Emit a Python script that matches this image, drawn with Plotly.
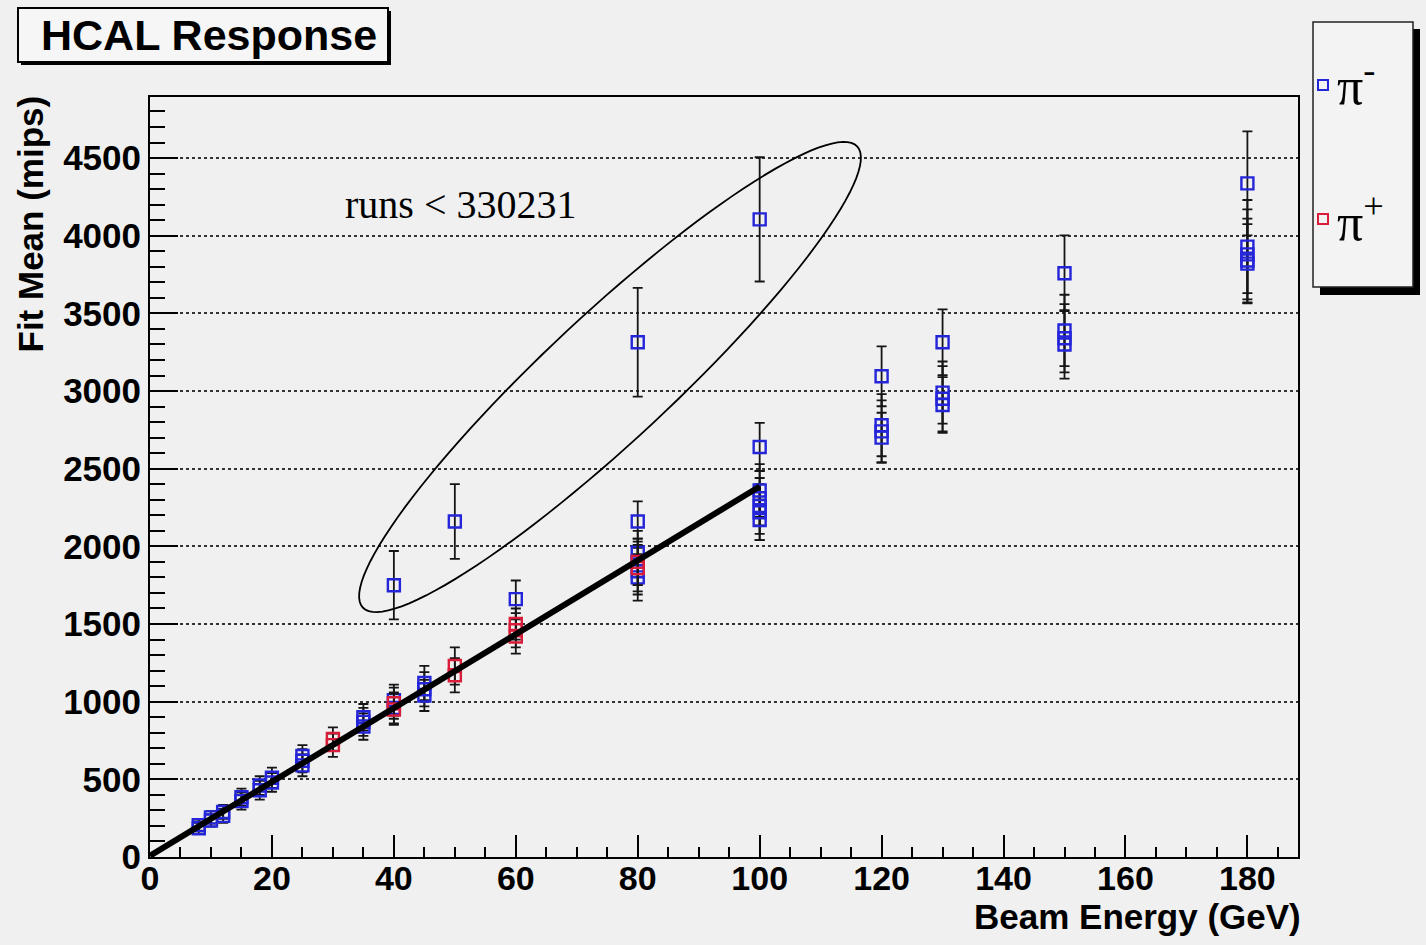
import math
import plotly.graph_objects as go

# ---------------- data ----------------
pim_energy = [8, 8, 10, 10, 12, 12, 15, 15, 18, 18, 20, 20,
              25, 25, 25, 35, 35, 35, 40, 40, 40, 45, 45, 45,
              50, 60,
              80, 80, 80, 80, 80, 80,
              100, 100, 100, 100, 100, 100, 100,
              120, 120, 120, 120,
              130, 130, 130, 130,
              150, 150, 150, 150,
              180, 180, 180, 180, 180]
pim_mean = [185, 205, 235, 255, 265, 290, 360, 385, 430, 460, 480, 510,
            590, 620, 650, 840, 870, 900, 960, 1010, 1750, 1040, 1080, 1120,
            2160, 1660,
            2160, 1960, 1900, 1840, 1800, 3314,
            2640, 2360, 2310, 2260, 2220, 2170, 4105,
            3095, 2780, 2740, 2700,
            3314, 2990, 2950, 2910,
            3758, 3390, 3340, 3300,
            4337, 3930, 3880, 3840, 3820]
pim_err = [35, 35, 40, 40, 45, 45, 55, 55, 60, 60, 60, 65,
           70, 75, 70, 85, 90, 85, 100, 100, 220, 100, 110, 110,
           240, 120,
           130, 140, 150, 150, 150, 350,
           155, 170, 175, 180, 180, 130, 400,
           193, 200, 200, 160,
           212, 200, 210, 180,
           244, 230, 220, 220,
           335, 300, 290, 270, 255]

pip_energy = [30, 30, 40, 40, 50, 50, 60, 60, 60, 80, 80]
pip_mean = [720, 760, 950, 990, 1170, 1230, 1420, 1460, 1500, 1860, 1900]
pip_err = [75, 75, 100, 100, 110, 120, 110, 110, 100, 150, 150]

fit_energy = [0, 100]
fit_mean = [8, 2385]

x_ticks = [0, 20, 40, 60, 80, 100, 120, 140, 160, 180]
y_ticks = [0, 500, 1000, 1500, 2000, 2500, 3000, 3500, 4000, 4500]

# ---------------- layout constants ----------------
W, H = 1426, 945
L, R, T, B = 150, 1298, 97, 857
XMAX, YMAX = 188.3, 4893
BLUE = "#2424d8"
RED = "#d91c3a"
BG = "#f0f0f0"
SANS = "Liberation Sans"
SERIF = "Liberation Serif"


def px(x):
    return (x - L) / (R - L)


def py(y):
    return (B - y) / (B - T)


fig = go.Figure()

fig.add_trace(go.Scatter(
    x=pim_energy, y=pim_mean, mode="markers", name="π-",
    error_y=dict(type="data", array=pim_err, color="#151515", thickness=1.8, width=5),
    marker=dict(symbol="square-open", size=12, color=BLUE, line=dict(width=2.4, color=BLUE)),
    showlegend=False))

fig.add_trace(go.Scatter(
    x=pip_energy, y=pip_mean, mode="markers", name="π+",
    error_y=dict(type="data", array=pip_err, color="#151515", thickness=1.8, width=5),
    marker=dict(symbol="square-open", size=12, color=RED, line=dict(width=2.4, color=RED)),
    showlegend=False))

fig.add_trace(go.Scatter(
    x=fit_energy, y=fit_mean, mode="lines",
    line=dict(color="black", width=6), showlegend=False))

# ---------------- shapes ----------------
shapes = []
# title box with shadow
shapes.append(dict(type="rect", xref="paper", yref="paper",
                   x0=px(21), x1=px(391), y0=py(11), y1=py(65),
                   fillcolor="black", line=dict(width=0), layer="above"))
shapes.append(dict(type="rect", xref="paper", yref="paper",
                   x0=px(18), x1=px(388), y0=py(8), y1=py(62),
                   fillcolor="#f6f6f6", line=dict(color="black", width=2), layer="above"))
# legend box with shadow
shapes.append(dict(type="rect", xref="paper", yref="paper",
                   x0=px(1320), x1=px(1420), y0=py(29), y1=py(295),
                   fillcolor="black", line=dict(width=0), layer="above"))
shapes.append(dict(type="rect", xref="paper", yref="paper",
                   x0=px(1313), x1=px(1413), y0=py(22), y1=py(287),
                   fillcolor="#f3f3f3", line=dict(color="#222", width=1.5), layer="above"))
# legend keys
for cy, col in [(85, BLUE), (219, RED)]:
    shapes.append(dict(type="rect", xref="paper", yref="paper",
                       x0=px(1318), x1=px(1328), y0=py(cy - 5), y1=py(cy + 5),
                       fillcolor="rgba(0,0,0,0)", line=dict(color=col, width=2), layer="above"))

# ellipse around early runs
ecx, ecy, ea, eb, eang = 610, 377, 338, 63, math.radians(43)
pts = []
for i in range(121):
    t = 2 * math.pi * i / 120
    X = ecx + ea * math.cos(t) * math.cos(eang) - eb * math.sin(t) * math.sin(eang)
    Y = ecy - (ea * math.cos(t) * math.sin(eang) + eb * math.sin(t) * math.cos(eang))
    pts.append((px(X), py(Y)))
path = "M " + " L ".join(f"{a:.5f},{b:.5f}" for a, b in pts) + " Z"
shapes.append(dict(type="path", xref="paper", yref="paper", path=path,
                   line=dict(color="black", width=1.8), layer="above"))

# ---------------- annotations ----------------
ann = []
ann.append(dict(text="HCAL Response", xref="paper", yref="paper",
                x=px(39), y=py(35), xanchor="left", yanchor="middle", showarrow=False,
                font=dict(family=SANS, size=43, color="black", weight="bold")))
ann.append(dict(text="runs &lt; 330231", xref="paper", yref="paper",
                x=px(460), y=py(204), xanchor="center", yanchor="middle", showarrow=False,
                font=dict(family=SERIF, size=40, color="black")))
ann.append(dict(text="π<sup>-</sup>", xref="paper", yref="paper",
                x=px(1335), y=py(82), xanchor="left", yanchor="middle", showarrow=False,
                font=dict(family=SERIF, size=52, color="black")))
ann.append(dict(text="π<sup>+</sup>", xref="paper", yref="paper",
                x=px(1335), y=py(218), xanchor="left", yanchor="middle", showarrow=False,
                font=dict(family=SERIF, size=52, color="black")))
ann.append(dict(text="Fit Mean (mips)", xref="paper", yref="paper", textangle=-90,
                x=px(30), y=py(94), xanchor="center", yanchor="top", showarrow=False,
                font=dict(family=SANS, size=35, color="black", weight="bold")))
ann.append(dict(text="Beam Energy (GeV)", xref="paper", yref="paper",
                x=px(1303), y=py(916), xanchor="right", yanchor="middle", showarrow=False,
                font=dict(family=SANS, size=35, color="black", weight="bold")))

fig.update_layout(
    width=W, height=H,
    margin=dict(l=L, r=W - R, t=T, b=H - B, pad=0),
    paper_bgcolor=BG, plot_bgcolor=BG,
    shapes=shapes, annotations=ann,
    xaxis=dict(range=[0, XMAX], tickvals=x_ticks, ticks="inside", ticklen=22,
               tickwidth=1.5, tickcolor="black", showgrid=False, zeroline=False,
               showline=True, linecolor="black", linewidth=2, mirror=True,
               ticklabelstandoff=-10,
               tickfont=dict(family=SANS, size=34, color="black", weight="bold"),
               minor=dict(dtick=5, tick0=0, ticks="inside", ticklen=10, tickwidth=1.5,
                          tickcolor="black", showgrid=False)),
    yaxis=dict(range=[0, YMAX], tickvals=y_ticks, ticks="inside", ticklen=28,
               tickwidth=1.5, tickcolor="black", showgrid=True, gridcolor="#333333",
               griddash="dot", gridwidth=1.5, zeroline=False,
               showline=True, linecolor="black", linewidth=2, mirror=True,
               tickfont=dict(family=SANS, size=35, color="black", weight="bold"),
               minor=dict(dtick=100, tick0=0, ticks="inside", ticklen=15, tickwidth=1.5,
                          tickcolor="black", showgrid=False)),
)

fig.write_html("out.html",
               config={"displayModeBar": False},
               post_script="document.body.style.margin='0';document.body.style.overflow='hidden';")
